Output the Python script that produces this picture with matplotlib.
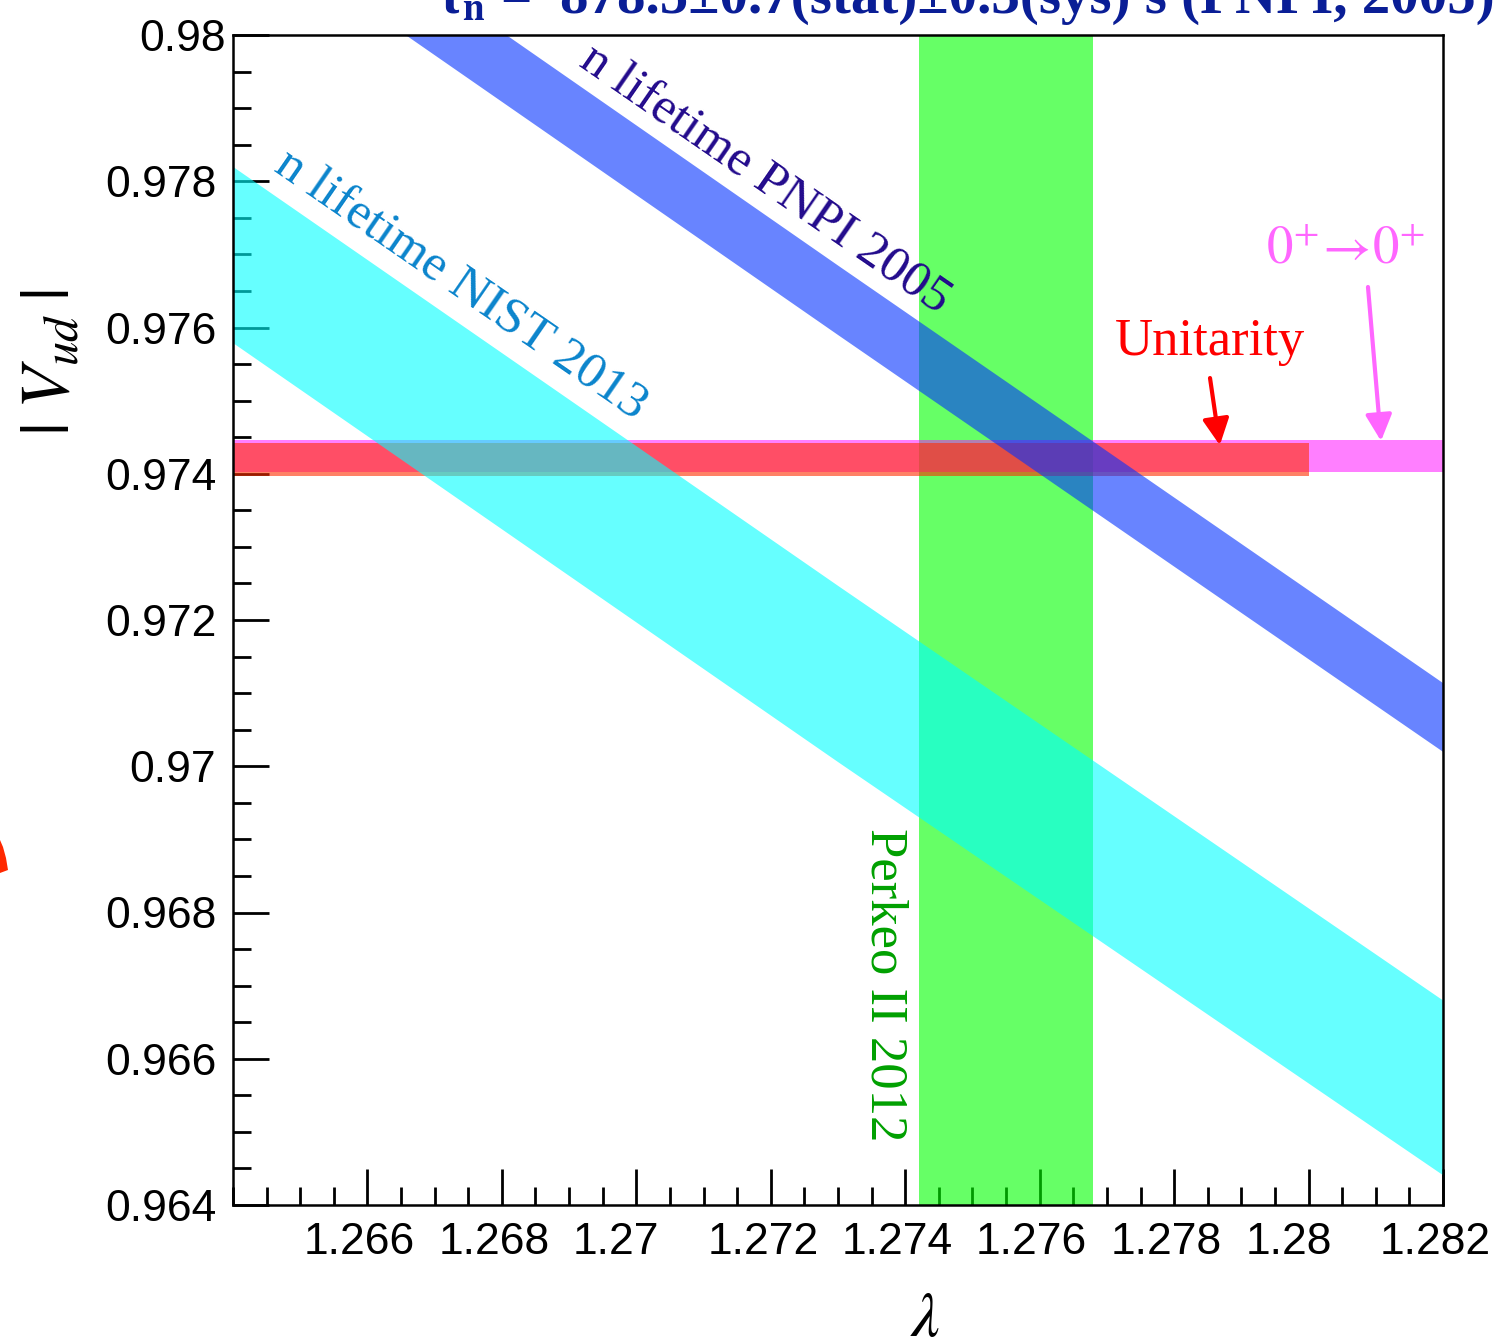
import matplotlib
matplotlib.use("Agg")
import matplotlib.pyplot as plt
import matplotlib.transforms as mtransforms
from matplotlib.ticker import FixedLocator, MultipleLocator
from matplotlib.patches import Polygon

plt.rcParams['mathtext.fontset'] = 'stix'

# band edges (lambda vs |Vud|)
lam_pts = [1.264, 1.273, 1.282]
nist_hi = [0.97820, 0.97247, 0.96680]
nist_lo = [0.97579, 0.97006, 0.96441]
pnpi_hi = [0.98260, 0.97685, 0.97114]
pnpi_lo = [0.98164, 0.97590, 0.97020]

perkeo_lam = [1.2742, 1.2768]
unit_lam = [1.264, 1.280]
unit_v = [0.97397, 0.97442]
ftt_lam = [1.264, 1.282]
ftt_v = [0.97403, 0.97446]

x_ticks = [1.266, 1.268, 1.270, 1.272, 1.274, 1.276, 1.278, 1.280, 1.282]
x_labels = ['1.266', '1.268', '1.27', '1.272', '1.274', '1.276', '1.278', '1.28', '1.282']
y_ticks = [0.964, 0.966, 0.968, 0.970, 0.972, 0.974, 0.976, 0.978, 0.980]
y_labels = ['0.964', '0.966', '0.968', '0.97', '0.972', '0.974', '0.976', '0.978', '0.98']

W, H = 1498, 1337
fig = plt.figure(figsize=(W / 100, H / 100), dpi=100)
ax = fig.add_axes([233 / W, 1 - 1205 / H, (1443 - 233) / W, (1205 - 35) / H])
ax.set_xlim(1.264, 1.282)
ax.set_ylim(0.964, 0.980)

# bands, drawn in the same order as the original
ax.axvspan(perkeo_lam[0], perkeo_lam[1], color=(0, 1, 0), alpha=0.6, lw=0)
ax.fill_between(ftt_lam, ftt_v[0], ftt_v[1], color=(1, 0, 1), alpha=0.5, lw=0)
ax.fill_between(unit_lam, unit_v[0], unit_v[1], color=(1, 0.18, 0), alpha=0.6, lw=0)
ax.fill_between(lam_pts, nist_lo, nist_hi, color=(0, 1, 1), alpha=0.6, lw=0)
ax.fill_between(lam_pts, pnpi_lo, pnpi_hi, color=(0.01, 0.2, 1), alpha=0.6, lw=0)

serif = 'Liberation Serif'
ax.text(1.271914, 0.978017, 'n lifetime PNPI 2005', rotation=-34.6, rotation_mode='anchor',
        ha='center', va='center', fontsize=37, family=serif, color='#220a8c')
ax.text(1.267377, 0.976581, 'n lifetime NIST 2013', rotation=-34.6, rotation_mode='anchor',
        ha='center', va='center', fontsize=37, family=serif, color='#0a84cc')
ax.text(1.273699, 0.967009, 'Perkeo II 2012', rotation=-90, ha='center', va='center',
        fontsize=38, family=serif, color='#00a000')
ax.text(1.278534, 0.975802, 'Unitarity', ha='center', va='center',
        fontsize=38, family=serif, color='red')
ax.text(1.280542, 0.977087, r'$0^{+}\!\rightarrow\!0^{+}$', ha='center', va='center',
        fontsize=38, color='#ff66ff')

ax.annotate('', xy=(1.27868, 0.97439), xytext=(1.278534, 0.975309),
            arrowprops=dict(arrowstyle='-|>', color='red', lw=3, mutation_scale=40, shrinkA=0, shrinkB=0))
ax.annotate('', xy=(1.281078, 0.974448), xytext=(1.280884, 0.976554),
            arrowprops=dict(arrowstyle='-|>', color='#ff66ff', lw=3, mutation_scale=40, shrinkA=0, shrinkB=0))

# ROOT style axes
ax.set_axisbelow(True)
ax.xaxis.set_major_locator(FixedLocator(x_ticks))
ax.set_xticklabels(x_labels)
ax.yaxis.set_major_locator(FixedLocator(y_ticks))
ax.set_yticklabels(y_labels)
ax.xaxis.set_minor_locator(MultipleLocator(0.0005))
ax.yaxis.set_minor_locator(MultipleLocator(0.0005))
ax.tick_params(which='both', direction='in', top=False, right=False, width=2, color='black')
ax.tick_params(which='major', length=26, labelsize=32, pad=12)
ax.tick_params(which='minor', length=13)
for lab in ax.get_xticklabels() + ax.get_yticklabels():
    lab.set_family('Liberation Sans')
# ROOT places the labels a bit left of the ticks
for lab in ax.get_xticklabels():
    dx = -20 if len(lab.get_text()) == 4 else -8
    lab.set_transform(lab.get_transform() + mtransforms.Affine2D().translate(dx, 0))
top_lab = ax.get_yticklabels()[-1]
top_lab.set_transform(top_lab.get_transform() + mtransforms.Affine2D().translate(9, 0))
for sp in ax.spines.values():
    sp.set_linewidth(1.8)

fig.text(50 / W, 1 - 362 / H, r'$|\;V_{ud}\;|$', rotation=90, ha='center', va='center', fontsize=50)
fig.text(925 / W, 1 - 1336 / H, r'$\lambda$', ha='center', va='baseline', fontsize=46)

# title, mostly cut off by the top edge
tc = '#0a1e96'
fig.text(436 / W, 1 - 12 / H, r'τ$_{\mathbf{n}}$ =', ha='left', va='baseline', fontsize=40,
         family=serif, weight='bold', color=tc)
fig.text(1495 / W, 1 - 13 / H, '878.5±0.7(stat)±0.3(sys) s (PNPI, 2005)', ha='right', va='baseline',
         fontsize=41, family=serif, weight='bold', color=tc)

# piece of a red shape at the left edge
blob = [(0, 840), (3, 847), (6, 858), (8, 870), (0, 873)]
fig.add_artist(Polygon([(x / W, 1 - y / H) for x, y in blob], closed=True,
                       transform=fig.transFigure, color='#ff2800', lw=0))

fig.savefig('out.png', dpi=100)
